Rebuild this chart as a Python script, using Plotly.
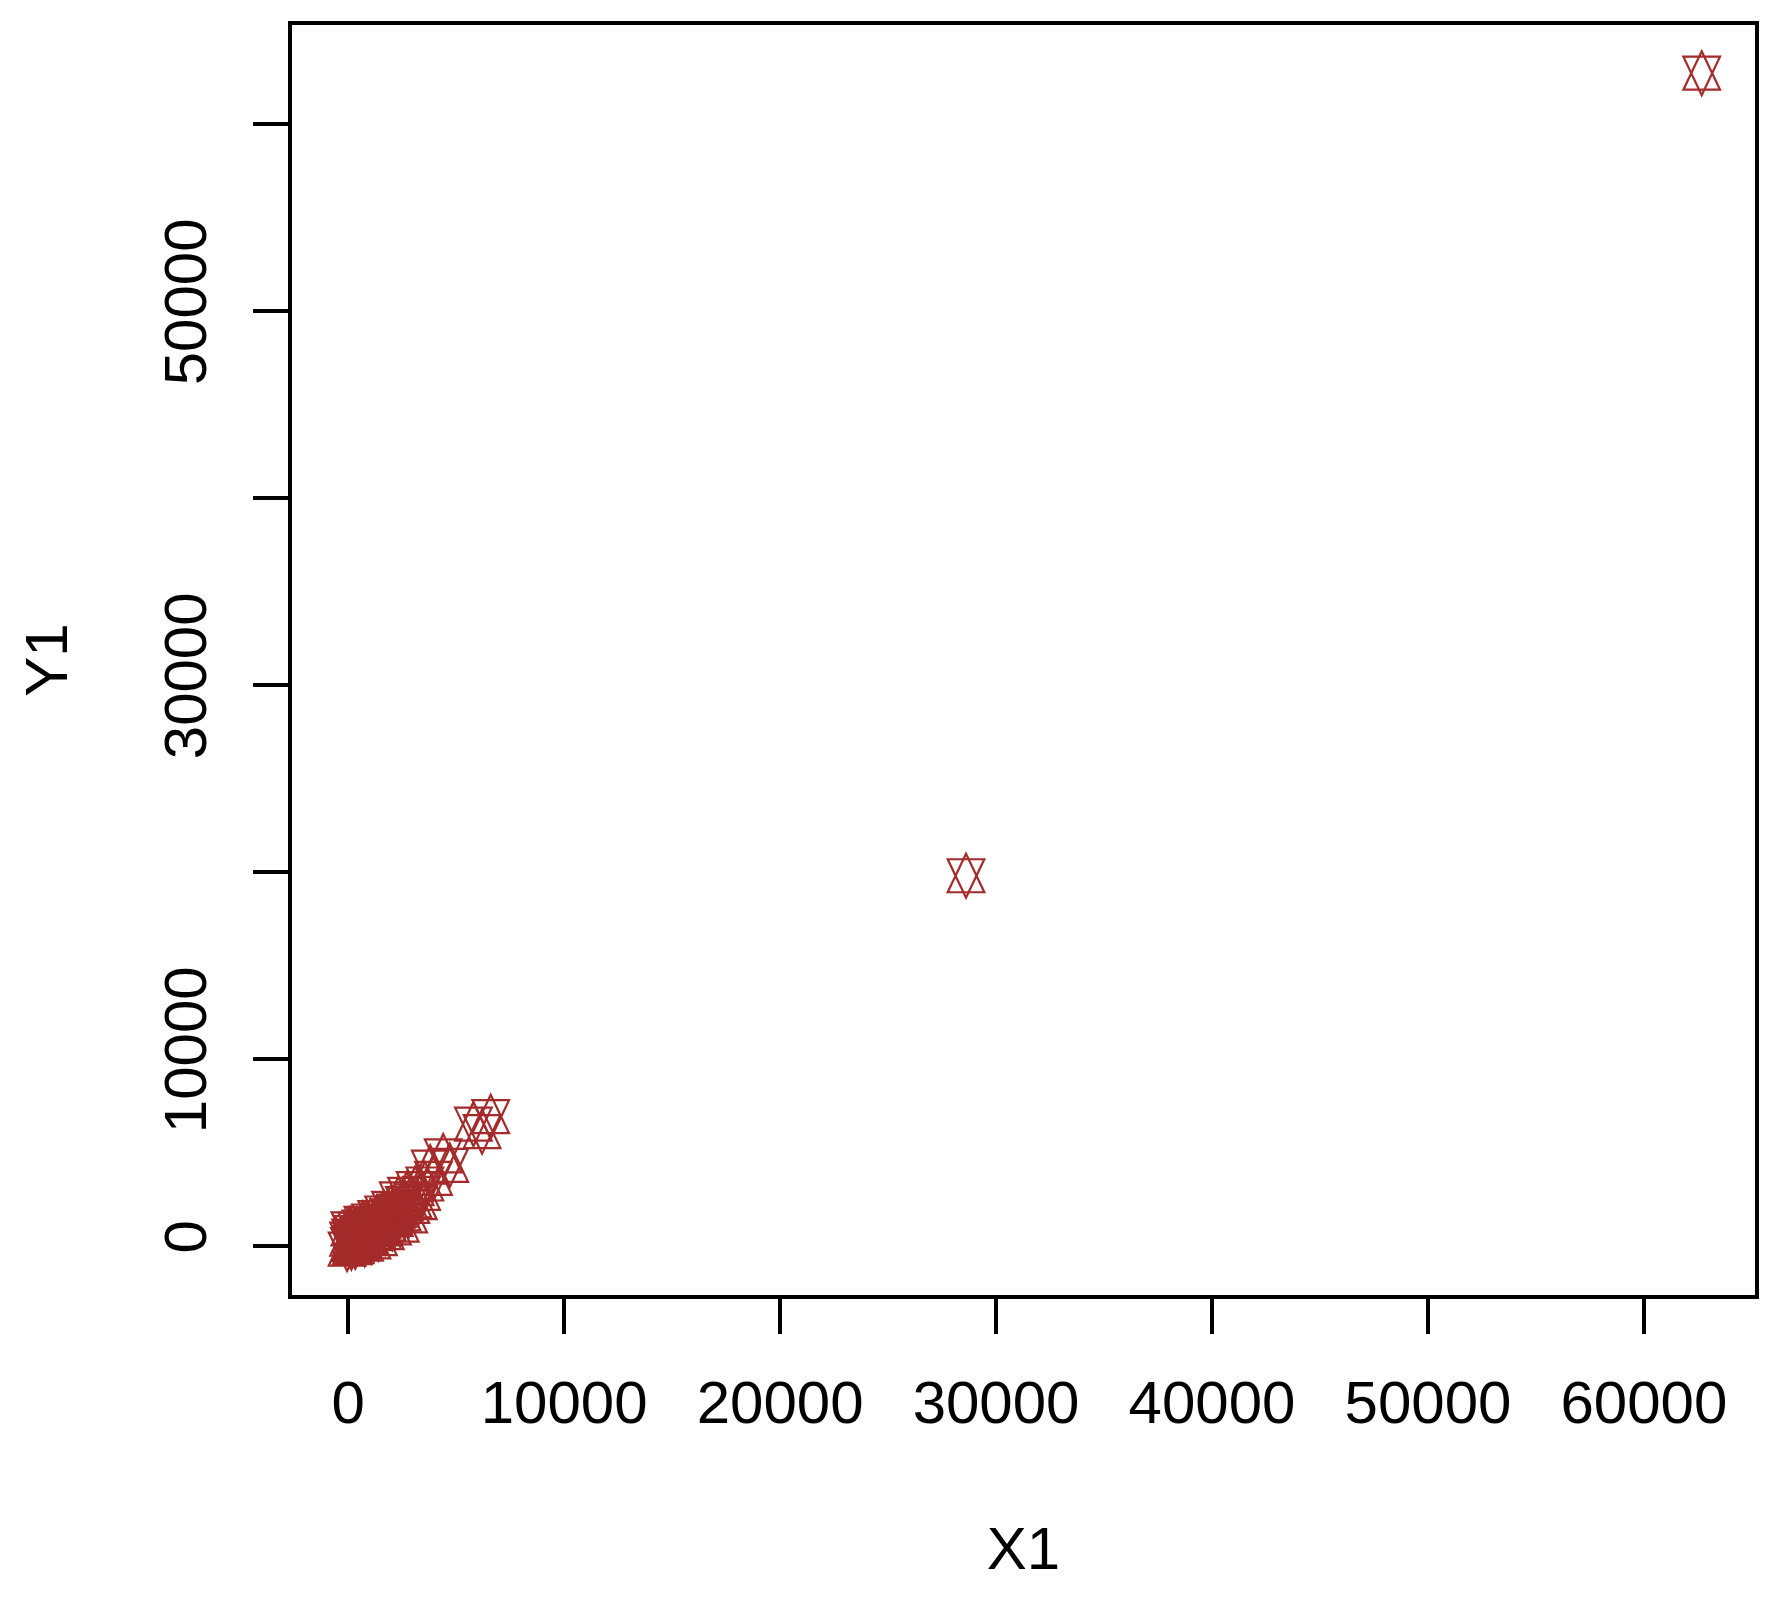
import plotly.graph_objects as go

# ---- data ----
x1 = [-50, 20, 60, 110, 150, 200, 240, 300, 350, 400, 450, 520, 580, 640, 700,
      760, 820, 900, 960, 1030, 1100, 1170, 1250, 1320, 1400, 1480, 1560, 1640,
      1720, 1800, 1880, 1960, 2050, 2140, 2230, 2320, 2410, 2500, 2600, 2700,
      2800, 2900, 3000, 3100, 3250, 3400, 3550, 3800, 3950, 4400, 4700, 5800,
      6200, 6600, 80, 130, 260, 330, 480, 560, 680, 850, 1150, 1350, 1600, 2000,
      2400, 28609, 62676]
y1 = [-180, 350, 60, 520, -100, 250, 700, 30, 420, 880, 150, 560, 1000, 300, 720,
      80, 1150, 480, 900, 1320, 200, 640, 1050, 1500, 380, 900, 1300, 1750,
      700, 1150, 1600, 2000, 950, 1400, 1850, 2500, 1100, 1700, 2250, 2750,
      1600, 2100, 2400, 3050, 2300, 2800, 3300, 4200, 3600, 4800, 4300, 6500,
      6100, 6900, 900, 150, 480, -50, 650, 250, 1200, 650, 950, 700, 1000, 1450,
      1900, 19786, 62712]

x_tick_vals = [0, 10000, 20000, 30000, 40000, 50000, 60000]
x_tick_text = ["0", "10000", "20000", "30000", "40000", "50000", "60000"]
y_tick_vals = [0, 10000, 20000, 30000, 40000, 50000, 60000]
y_tick_text = ["0", "10000", "", "30000", "", "50000", ""]

x_title = "X1"
y_title = "Y1"

# ---- style ----
COLOR = "#A52A2A"
FONT = "Liberation Sans, Arial, sans-serif"
W, A, B = 18.3, 22.0, 16.5  # star (pch 11) half-width, apex, base offsets in px
star_path = (f"M 0,{A} L {W},{-B} L {-W},{-B} Z "
             f"M 0,{-A} L {W},{B} L {-W},{B} Z")

fig = go.Figure()
fig.add_trace(go.Scatter(
    x=x1, y=y1, mode="markers",
    marker=dict(color=COLOR, size=30, opacity=0),
    hovertemplate="X1=%{x}<br>Y1=%{y}<extra></extra>",
))

shapes = [
    dict(type="path", xref="x", yref="y", xsizemode="pixel", ysizemode="pixel",
         xanchor=xv, yanchor=yv, path=star_path,
         line=dict(color=COLOR, width=2.2), fillcolor="rgba(0,0,0,0)",
         layer="above")
    for xv, yv in zip(x1, y1)
]

axis_common = dict(
    showgrid=False, zeroline=False, showline=True, linecolor="black",
    linewidth=3.5, mirror=True, ticks="outside", ticklen=35, tickwidth=3.5,
    tickcolor="black", tickfont=dict(size=60, color="black", family=FONT),
)

fig.update_layout(
    width=1790, height=1601,
    margin=dict(l=284, r=43, t=17, b=314),
    plot_bgcolor="white", paper_bgcolor="white",
    showlegend=False,
    font=dict(family=FONT, color="black"),
    shapes=shapes,
    xaxis=dict(range=[-2602, 65144], tickvals=x_tick_vals, ticktext=x_tick_text,
               ticklabelstandoff=17,
               title=dict(text=x_title, font=dict(size=60, family=FONT), standoff=93),
               **axis_common),
    yaxis=dict(range=[-2637, 65290], tickvals=y_tick_vals, ticktext=y_tick_text,
               tickangle=-90, ticklabelstandoff=23,
               title=dict(text=y_title, font=dict(size=60, family=FONT), standoff=66),
               **axis_common),
)

fig.write_html("out.html")
